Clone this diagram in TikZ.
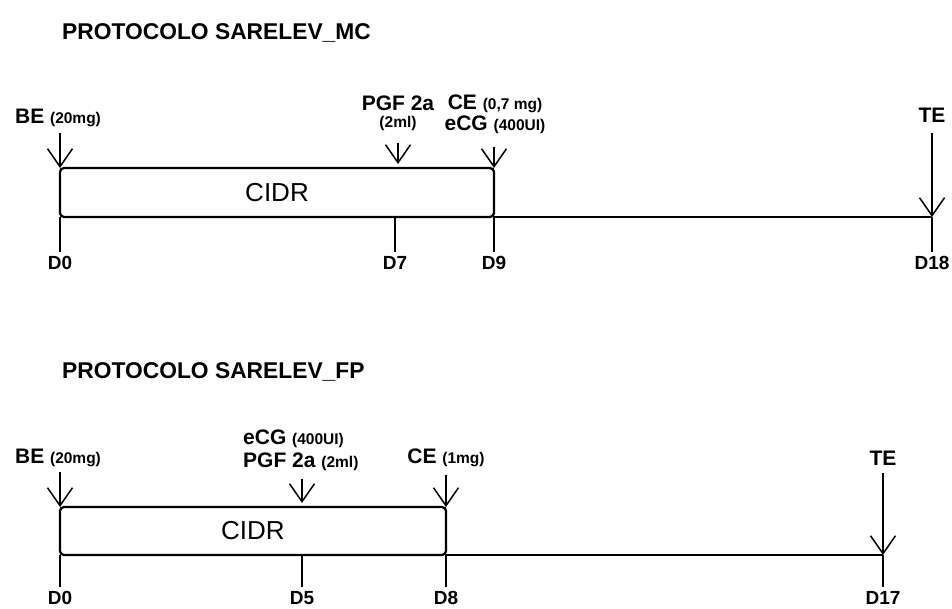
\documentclass[tikz,border=0pt]{standalone}
\usepackage{fontspec}
\setmainfont{Liberation Sans}
\usetikzlibrary{arrows.meta}
\newcommand{\amt}[1]{{\fontsize{15.5}{18}\selectfont #1}}

\begin{document}
\begin{tikzpicture}[x=1pt,y=-1pt,
  title/.style={font=\fontsize{22.8}{27}\selectfont\bfseries,anchor=base west,inner sep=0pt},
  lab/.style={font=\fontsize{21}{25}\selectfont\bfseries,anchor=base,inner sep=0pt},
  day/.style={font=\fontsize{19}{23}\selectfont\bfseries,inner sep=0pt},
  cidr/.style={draw,line width=2.3pt,rounded corners=4pt,outer sep=0pt,inner sep=0pt,
               font=\fontsize{26}{31}\selectfont},
  dose/.style={line width=1.5pt,-{Straight Barb[length=18pt,width=25pt]}},
  tick/.style={line width=1.5pt,shorten >=4pt},
  axis/.style={line width=1.7pt}]

  \useasboundingbox (0,0) rectangle (952,609);

  % protocol MC: CIDR D0-D9, transfer at D18
  \node[title] (titMC) at (62,40) {PROTOCOLO SARELEV\_MC};
  \node[cidr,minimum width=434pt,minimum height=49pt] (cidrMC) at (277,192.5) {CIDR};
  \foreach \nm/\xx in {0/60, 7/395, 9/494, 18/932} {
    \coordinate (mc\nm) at (\xx,217);
    \node[day] (dMC\nm) at (\xx,263) {D\nm};
    \draw[tick] (mc\nm) -- (dMC\nm.north);
  }
  \draw[axis] (cidrMC.south east) -- (mc18);

  \node[lab] (lBEmc) at (58,124) {BE \amt{(20mg)}};
  \node[lab] (lPGFmc) at (398,111) {PGF 2a};
  \node[lab] (lPGFmcb) at (398,128) {\amt{(2ml)}};
  \node[lab] (lCEmc) at (495,110) {CE \amt{(0,7 mg)}};
  \node[lab] (lECGmc) at (495,131) {eCG \amt{(400UI)}};
  \node[lab] (lTEmc) at (932,123) {TE};

  \coordinate (aBEmc) at (60,133);
  \coordinate (aPGFmc) at (398,143);
  \coordinate (aCEmc) at (494,147);
  \coordinate (aTEmc) at (932,133);
  \draw[dose] (aBEmc) -- (cidrMC.north west);
  \draw[dose,shorten >=4pt] (aPGFmc) -- (aPGFmc |- cidrMC.north);
  \draw[dose] (aCEmc) -- (cidrMC.north east);
  \draw[dose] (aTEmc) -- (mc18);

  % protocol FP: CIDR D0-D8, transfer at D17
  \node[title] (titFP) at (62,378) {PROTOCOLO SARELEV\_FP};
  \node[cidr,minimum width=386pt,minimum height=48pt] (cidrFP) at (253,531) {CIDR};
  \foreach \nm/\xx in {0/60, 5/302, 8/446, 17/883} {
    \coordinate (fp\nm) at (\xx,555);
    \node[day] (dFP\nm) at (\xx,598) {D\nm};
    \draw[tick] (fp\nm) -- (dFP\nm.north);
  }
  \draw[axis] (cidrFP.south east) -- (fp17);

  \node[lab] (lBEfp) at (58,463) {BE \amt{(20mg)}};
  \node[lab,anchor=base west] (lECGfp) at (243,444) {eCG \amt{(400UI)}};
  \node[lab,anchor=base west] (lPGFfp) at (243,467) {PGF 2a \amt{(2ml)}};
  \node[lab] (lCEfp) at (446,463) {CE \amt{(1mg)}};
  \node[lab] (lTEfp) at (883,465) {TE};

  \coordinate (aBEfp) at (60,472);
  \coordinate (aPGFfp) at (302,479);
  \coordinate (aCEfp) at (446,475);
  \coordinate (aTEfp) at (883,473);
  \draw[dose] (aBEfp) -- (cidrFP.north west);
  \draw[dose,shorten >=4pt] (aPGFfp) -- (aPGFfp |- cidrFP.north);
  \draw[dose] (aCEfp) -- (cidrFP.north east);
  \draw[dose] (aTEfp) -- (fp17);

\end{tikzpicture}
\end{document}
